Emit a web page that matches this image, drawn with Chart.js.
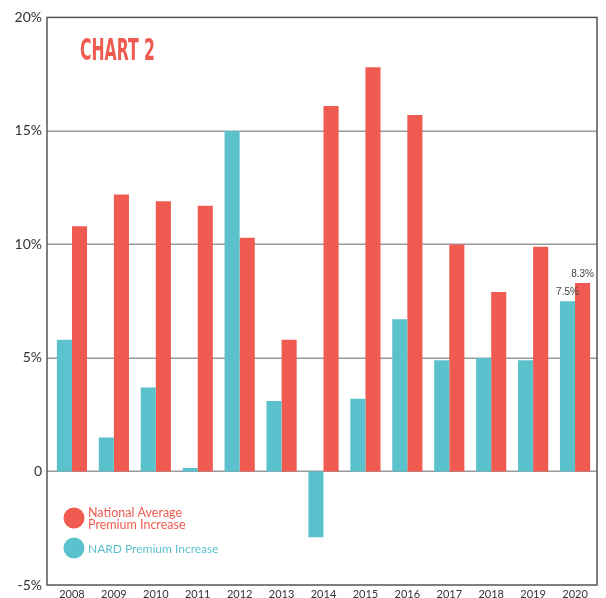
<!DOCTYPE html>
<html>
<head>
<meta charset="utf-8">
<script src="https://cdn.jsdelivr.net/npm/chart.js@4/dist/chart.umd.min.js"></script>
<style>
html,body{margin:0;padding:0;background:#fff;overflow:hidden;width:606px;height:598px}
#wrap{position:relative;width:606px;height:614px}
canvas{display:block}
</style>
</head>
<body>
<div id="wrap"><canvas id="c" width="606" height="614"></canvas></div>
<script>
// ---- data ----
const years = ['2008','2009','2010','2011','2012','2013','2014','2015','2016','2017','2018','2019','2020'];
const nardIncrease = [5.8, 1.5, 3.7, 0.15, 15.0, 3.1, -2.9, 3.2, 6.7, 4.9, 5.0, 4.9, 7.5];
const nationalAvg  = [10.8, 12.2, 11.9, 11.7, 10.3, 5.8, 16.1, 17.8, 15.7, 10.0, 7.9, 9.9, 8.3];
const nardValueLabels     = [null,null,null,null,null,null,null,null,null,null,null,null,'7.5%'];
const nationalValueLabels = [null,null,null,null,null,null,null,null,null,null,null,null,'8.3%'];
const yTickValues = [-5, 0, 5, 10, 15, 20];
const yTickLabels = ['-5%', '0', '5%', '10%', '15%', '20%'];
const nationalLegend = ['National Average', 'Premium Increase'];
const nardLegend = ['NARD Premium Increase'];
const chartTitle = 'CHART 2';

// ---- styles ----
const RED = '#EF5B50';
const TEAL = '#5BC2CD';
const FONT = 'Lato, "DejaVu Sans", sans-serif';
const FRAME_EXTRA_LEFT = 4;
const FRAME_EXTRA_RIGHT = 1;

const decor = {
  id: 'decor',
  beforeDatasetsDraw(chart) {
    const ctx = chart.ctx;
    const a = chart.chartArea;
    const ys = chart.scales.y;
    ctx.save();
    ctx.strokeStyle = '#9a9a9a';
    ctx.lineWidth = 1.5;
    yTickValues.forEach(v => {
      if (v === ys.min || v === ys.max) return;
      const y = Math.round(ys.getPixelForValue(v)) + 0.25;
      ctx.beginPath();
      ctx.moveTo(a.left - FRAME_EXTRA_LEFT, y);
      ctx.lineTo(a.right + FRAME_EXTRA_RIGHT, y);
      ctx.stroke();
    });
    ctx.restore();
  },
  afterDatasetsDraw(chart) {
    const ctx = chart.ctx;
    const a = chart.chartArea;
    ctx.save();
    // frame
    ctx.strokeStyle = '#555';
    ctx.lineWidth = 1.5;
    ctx.strokeRect(a.left - FRAME_EXTRA_LEFT, a.top, a.right - a.left + FRAME_EXTRA_LEFT + FRAME_EXTRA_RIGHT, a.bottom - a.top);

    // value labels
    ctx.fillStyle = '#444';
    ctx.font = '10px "Liberation Sans", sans-serif';
    ctx.textAlign = 'center';
    ctx.textBaseline = 'bottom';
    const lbls = [nardValueLabels, nationalValueLabels];
    lbls.forEach((arr, di) => {
      const meta = chart.getDatasetMeta(di);
      arr.forEach((t, j) => {
        if (!t) return;
        const el = meta.data[j];
        ctx.fillText(t, el.x, el.y - 4);
      });
    });

    // title (fit into box)
    ctx.fillStyle = RED;
    ctx.font = 'bold 30px "Liberation Sans Narrow", "DejaVu Sans Condensed", "Liberation Sans", sans-serif';
    ctx.textAlign = 'left';
    ctx.textBaseline = 'alphabetic';
    const w = ctx.measureText(chartTitle).width;
    const targetW = 75;
    ctx.save();
    ctx.translate(80, 60);
    ctx.scale(targetW / w, 1);
    ctx.fillText(chartTitle, 0, 0);
    ctx.restore();

    // legend
    ctx.font = '12.5px ' + FONT;
    ctx.textBaseline = 'middle';
    ctx.fillStyle = RED;
    ctx.beginPath(); ctx.arc(74, 518, 10.5, 0, Math.PI * 2); ctx.fill();
    nationalLegend.forEach((t, i) => ctx.fillText(t, 88, 513 + i * 11.5));
    ctx.fillStyle = TEAL;
    ctx.beginPath(); ctx.arc(74, 548, 10.5, 0, Math.PI * 2); ctx.fill();
    ctx.font = '12px ' + FONT;
    nardLegend.forEach((t, i) => ctx.fillText(t, 88, 549 + i * 11.5));
    ctx.restore();
  }
};

const H = 614;
const AREA_BOTTOM = 585;

new Chart(document.getElementById('c'), {
  type: 'bar',
  data: {
    labels: years,
    datasets: [
      { label: nardLegend.join(' '), data: nardIncrease, backgroundColor: TEAL, borderWidth: 0 },
      { label: nationalLegend.join(' '), data: nationalAvg, backgroundColor: RED, borderWidth: 0 }
    ]
  },
  options: {
    responsive: false,
    animation: false,
    devicePixelRatio: 1,
    categoryPercentage: 0.72,
    barPercentage: 1.0,
    layout: { padding: { top: 10, right: 10, left: 0, bottom: 0 } },
    plugins: { legend: { display: false }, tooltip: { enabled: false }, title: { display: false } },
    scales: {
      x: {
        grid: { display: false, drawTicks: false },
        border: { display: false },
        ticks: { color: '#333', font: { family: FONT, size: 11 }, padding: 3, maxRotation: 0, autoSkip: false },
        afterFit(s) { s.height = H - AREA_BOTTOM; }
      },
      y: {
        min: -5, max: 20,
        afterBuildTicks(s) { s.ticks = yTickValues.map(v => ({ value: v })); },
        grid: { display: false, drawTicks: false },
        border: { display: false },
        ticks: {
          color: '#333',
          font: { family: FONT, size: 14 },
          padding: 9,
          callback: (v) => yTickLabels[yTickValues.indexOf(v)]
        },
        afterFit(s) { s.width = 51; }
      }
    }
  },
  plugins: [decor]
});
</script>
</body>
</html>
